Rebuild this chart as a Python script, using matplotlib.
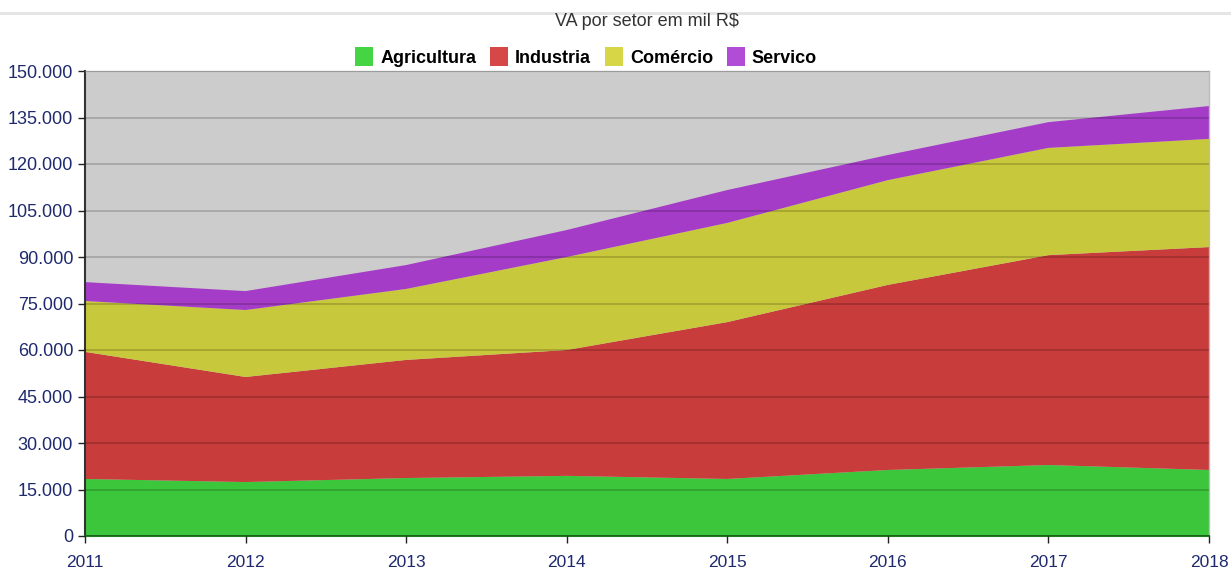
import matplotlib
matplotlib.use("Agg")
import matplotlib.pyplot as plt
from matplotlib.lines import Line2D
from matplotlib.patches import Patch
from matplotlib.ticker import FuncFormatter

years = [2011, 2012, 2013, 2014, 2015, 2016, 2017, 2018]
agricultura = [18400, 17400, 18700, 19400, 18400, 21300, 22900, 21300]
industria = [41000, 33900, 38100, 40600, 50600, 59700, 67700, 71900]
comercio = [16400, 21600, 22900, 30000, 32000, 33800, 34600, 34900]
servico = [6100, 6100, 7700, 8700, 10600, 8100, 8300, 10600]
series_names = ["Agricultura", "Industria", "Comércio", "Servico"]
fill_colors = ["#3cc63c", "#c83c3c", "#c8c83c", "#a43cc8"]
legend_colors = ["#44d444", "#d64848", "#d6d646", "#b04cd6"]
yticks = list(range(0, 150001, 15000))

plt.rcParams['font.family'] = ['Liberation Sans', 'DejaVu Sans']

fig = plt.figure(figsize=(12.31, 5.68), dpi=100)
ax = fig.add_axes([85/1231, 1-536/568, (1209-85)/1231, (536-71)/568])
ax.set_facecolor("#cccccc")

ax.stackplot(years, agricultura, industria, comercio, servico,
             colors=fill_colors, zorder=2, linewidth=0)

ax.set_xlim(years[0], years[-1])
ax.set_ylim(0, 150000)
ax.set_yticks(yticks)
ax.set_xticks(years)
ax.yaxis.set_major_formatter(FuncFormatter(lambda v, p: "0" if v == 0 else f"{int(v):,}".replace(",", ".")))
ax.grid(axis='y', color='black', alpha=0.2, linewidth=1.2, zorder=3)
ax.set_axisbelow(False)
ax.tick_params(axis='y', labelsize=13, colors='#222222', labelcolor='#1f2a6e', length=5, width=1)
ax.tick_params(axis='x', labelsize=12.5, colors='#222222', labelcolor='#1f2a6e', length=5, width=1, pad=9)

for s in ['top', 'right']:
    ax.spines[s].set_color('#bbbbbb')
    ax.spines[s].set_linewidth(1)
ax.spines['left'].set_color('#333333')
ax.spines['left'].set_linewidth(1.5)
ax.spines['bottom'].set_color('#1f7a1f')
ax.spines['bottom'].set_linewidth(1.5)

fig.text(647/1231, 1-21/568, "VA por setor em mil R$", fontsize=13, color='#333333',
         ha='center', va='center')

handles = [Patch(facecolor=c, edgecolor='none') for c in legend_colors]
fig.legend(handles, series_names, loc='center', bbox_to_anchor=(586/1231, 1-57/568),
           ncol=4, frameon=False, handlelength=1.0, handleheight=1.25,
           handletextpad=0.4, columnspacing=0.75,
           prop={'weight': 'bold', 'size': 13})

fig.add_artist(Line2D([0, 1], [1-13/568, 1-13/568], color='#e4e4e4', linewidth=2,
                      transform=fig.transFigure))

fig.savefig("out.png", dpi=100)
